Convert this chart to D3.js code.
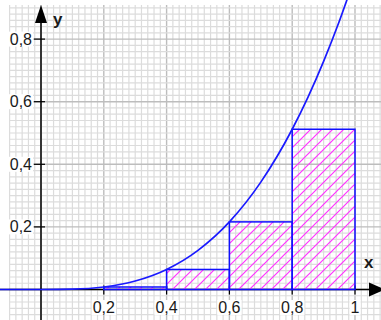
<!DOCTYPE html>
<html>
<head>
<meta charset="utf-8">
<script src="https://cdn.jsdelivr.net/npm/d3@7"></script>
<style>
  body { margin: 0; background: #fff; }
  svg { display: block; }
  text { font-family: "Liberation Sans", Arial, sans-serif; fill: #1a1a1a; }
</style>
</head>
<body>
<div id="chart"></div>
<script>
'use strict';

// values
var xTicks = [0.2, 0.4, 0.6, 0.8, 1];
var yTicks = [0.2, 0.4, 0.6, 0.8];
var rectLeft = [0, 0.2, 0.4, 0.6, 0.8];
var rectHeight = [0, 0.008, 0.064, 0.216, 0.512];
var curveX = [0, 0.1, 0.2, 0.3, 0.4, 0.5, 0.6, 0.7, 0.8, 0.85, 0.9, 0.95, 1];
var curveY = [0, 0.001, 0.008, 0.027, 0.064, 0.125, 0.216, 0.343, 0.512, 0.614, 0.729, 0.857, 1];

var W = 381, H = 320;

var svg = d3.select("#chart").append("svg").attr("width", W).attr("height", H);

var x = d3.scaleLinear().domain([0, 1]).range([41, 355]);
var y = d3.scaleLinear().domain([0, 1]).range([289.5, -23.5]);

var comma = d3.formatLocale({decimal: ",", thousands: ".", grouping: [3], currency: ["", ""]}).format("~g");

// hatch pattern for the rectangles
var defs = svg.append("defs");
var pat = defs.append("pattern").attr("id", "hatch")
    .attr("patternUnits", "userSpaceOnUse").attr("width", 11).attr("height", 11);
pat.append("path").attr("d", "M0,11 L11,0 M-1,1 L1,-1 M10,12 L12,10")
    .attr("stroke", "#ff33ff").attr("stroke-width", 1.2);

defs.append("clipPath").attr("id", "gridclip").append("rect")
    .attr("x", 9).attr("y", 5).attr("width", W - 9).attr("height", H - 5);
defs.append("clipPath").attr("id", "plotclip").append("rect")
    .attr("x", 0).attr("y", 0).attr("width", W).attr("height", H);

// grid
var grid = svg.append("g").attr("clip-path", "url(#gridclip)");
var minorX = d3.range(-6, 56).map(function (i) { return i * 0.02; });
var minorY = d3.range(-6, 48).map(function (i) { return i * 0.02; });
grid.selectAll(".mx").data(minorX).enter().append("line")
    .attr("x1", function (d) { return x(d); }).attr("x2", function (d) { return x(d); })
    .attr("y1", 0).attr("y2", H)
    .attr("stroke", function (d, i) { return (i - 6) % 10 === 0 ? "#bdbdbd" : "#dcdcdc"; })
    .attr("stroke-width", function (d, i) { return (i - 6) % 10 === 0 ? 1.4 : 1.2; });
grid.selectAll(".my").data(minorY).enter().append("line")
    .attr("y1", function (d) { return y(d); }).attr("y2", function (d) { return y(d); })
    .attr("x1", 0).attr("x2", W)
    .attr("stroke", function (d, i) { return (i - 6) % 10 === 0 ? "#bdbdbd" : "#dcdcdc"; })
    .attr("stroke-width", function (d, i) { return (i - 6) % 10 === 0 ? 1.4 : 1.2; });

// axes
svg.append("line").attr("x1", 0).attr("x2", 372).attr("y1", y(0)).attr("y2", y(0))
    .attr("stroke", "#000").attr("stroke-width", 1.5);
svg.append("line").attr("x1", x(0)).attr("x2", x(0)).attr("y1", 20).attr("y2", H)
    .attr("stroke", "#000").attr("stroke-width", 1.5);
svg.append("path").attr("d", "M" + (x(0) - 6) + ",23 L" + x(0) + ",5 L" + (x(0) + 6) + ",23 Z").attr("fill", "#000");
svg.append("path").attr("d", "M369," + (y(0) - 7) + " L385," + y(0) + " L369," + (y(0) + 7) + " Z").attr("fill", "#000");

svg.selectAll(".xt").data(xTicks).enter().append("line")
    .attr("x1", function (d) { return x(d); }).attr("x2", function (d) { return x(d); })
    .attr("y1", y(0) - 4).attr("y2", y(0) + 5)
    .attr("stroke", "#000").attr("stroke-width", 1.2);
svg.selectAll(".yt").data(yTicks).enter().append("line")
    .attr("y1", function (d) { return y(d); }).attr("y2", function (d) { return y(d); })
    .attr("x1", x(0) - 7).attr("x2", x(0) + 4)
    .attr("stroke", "#000").attr("stroke-width", 1.2);

// rectangles (lower sum)
var plot = svg.append("g").attr("clip-path", "url(#plotclip)");
plot.selectAll(".bar").data(rectLeft).enter().append("rect")
    .attr("x", function (d) { return x(d); })
    .attr("width", function (d) { return x(d + 0.2) - x(d); })
    .attr("y", function (d, i) { return y(rectHeight[i]); })
    .attr("height", function (d, i) { return y(0) - y(rectHeight[i]); })
    .attr("fill", "url(#hatch)")
    .attr("stroke", "#1010ff").attr("stroke-width", 1.5);

// flat part of the graph left of 0
plot.append("line").attr("x1", 0).attr("x2", x(0)).attr("y1", y(0)).attr("y2", y(0))
    .attr("stroke", "#1010ff").attr("stroke-width", 1.5);

var pts = curveX.map(function (d, i) { return [d, curveY[i]]; });
plot.append("path").datum(pts)
    .attr("d", d3.line().x(function (d) { return x(d[0]); }).y(function (d) { return y(d[1]); })
        .curve(d3.curveMonotoneX))
    .attr("fill", "none").attr("stroke", "#1a1aff").attr("stroke-width", 1.7);

// tick labels with white boxes
function label(g, txt, px, py, anchor) {
    var t = g.append("text").attr("x", px).attr("y", py).attr("text-anchor", anchor)
        .style("font-size", "16px").text(txt);
    var b = t.node().getBBox();
    g.insert("rect", "text").attr("x", b.x - 1).attr("y", b.y + 1)
        .attr("width", b.width + 2).attr("height", b.height - 2).attr("fill", "#fff");
}
xTicks.forEach(function (d) {
    label(svg.append("g"), comma(d), x(d), 313, "middle");
});
yTicks.forEach(function (d) {
    label(svg.append("g"), comma(d), 32, y(d) + 5.5, "end");
});

svg.append("text").attr("x", 53).attr("y", 25).style("font-size", "17px")
    .style("font-weight", "bold").text("y");
svg.append("text").attr("x", 364).attr("y", 268).style("font-size", "17px")
    .style("font-weight", "bold").text("x");
</script>
</body>
</html>
